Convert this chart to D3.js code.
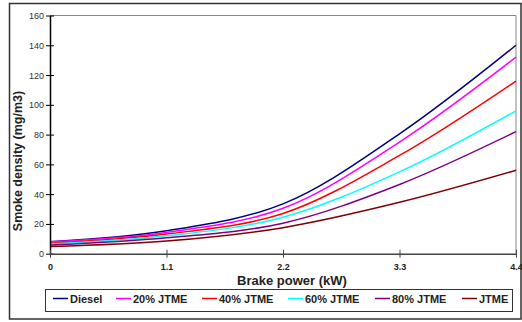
<!DOCTYPE html>
<html><head><meta charset="utf-8">
<script src="https://cdn.jsdelivr.net/npm/d3@7"></script>
<style>body{margin:0;background:#fff}svg{display:block}</style>
</head><body>
<svg id="c" width="522" height="322"></svg>
<script>
const xValues = [0, 1.1, 2.2, 3.3, 4.4];
const seriesNames = ["Diesel", "20% JTME", "40% JTME", "60% JTME", "80% JTME", "JTME"];
const diesel = [8, 15.4, 33.5, 80.5, 140];
const jtme20 = [8, 14.3, 30.5, 75, 132];
const jtme40 = [7, 13.2, 27, 66, 116];
const jtme60 = [6.5, 12, 24.5, 55, 96];
const jtme80 = [5.8, 10.7, 20.5, 46.5, 82];
const jtme100 = [4.8, 8.5, 17.5, 34.5, 56];
const seriesValues = [diesel, jtme20, jtme40, jtme60, jtme80, jtme100];
const colors = ["#000080", "#ff00ff", "#ff0000", "#00ffff", "#800080", "#800000"];
const xTicks = [0, 1.1, 2.2, 3.3, 4.4];
const yTicks = [0, 20, 40, 60, 80, 100, 120, 140, 160];

const svg = d3.select("#c");
const font = "Liberation Sans, Arial, sans-serif";
const x = d3.scaleLinear().domain([0, 4.4]).range([50, 516]);
const y = d3.scaleLinear().domain([0, 160]).range([253.7, 15.5]);

// outer border
svg.append("rect").attr("x", 9.5).attr("y", 3.5).attr("width", 511.5).attr("height", 315.5)
  .attr("fill", "none").attr("stroke", "#333").attr("stroke-width", 1.5);

// plot frame (top/right gray)
svg.append("path").attr("d", `M${x(0)},${y(160)}H${x(4.4)}V${y(0)}`)
  .attr("fill", "none").attr("stroke", "#888").attr("stroke-width", 1);

// lines
const line = d3.line().x((d, i) => x(xValues[i])).y(d => y(d)).curve(d3.curveCatmullRom.alpha(0.5));
seriesValues.forEach((vals, i) => {
  svg.append("path").attr("d", line(vals)).attr("fill", "none")
    .attr("stroke", colors[i]).attr("stroke-width", 1.5);
});

// y axis
const yAxis = d3.axisLeft(y).tickValues(yTicks).tickSize(0).tickPadding(0).tickFormat(d3.format("d"));
const gy = svg.append("g").attr("transform", `translate(${x(0)},0)`).call(yAxis);
gy.select(".domain").attr("stroke", "#000").attr("stroke-width", 1.5);
gy.selectAll(".tick line").remove();
gy.selectAll(".tick").append("line").attr("x1", -4).attr("x2", 4).attr("stroke", "#000").attr("stroke-width", 1);
gy.selectAll(".tick text").attr("x", -6).attr("dy", "0.34em").attr("font-family", font).attr("font-size", 9).attr("fill", "#333");

// x axis
const xAxis = d3.axisBottom(x).tickValues(xTicks).tickSize(0).tickPadding(0).tickFormat(d => d === 0 ? "0" : d3.format(".1f")(d));
const gx = svg.append("g").attr("transform", `translate(0,${y(0)})`).call(xAxis);
gx.select(".domain").attr("stroke", "#444").attr("stroke-width", 1.5);
gx.selectAll(".tick line").remove();
gx.selectAll(".tick").append("line").attr("y1", -4).attr("y2", 4).attr("stroke", "#444").attr("stroke-width", 1);
gx.selectAll(".tick text").attr("y", 16.3).attr("dy", 0).attr("font-family", font).attr("font-size", 9).attr("font-weight", "bold").attr("fill", "#222");
gy.select(".domain").raise();

// titles
svg.append("text").attr("x", 292).attr("y", 284.5).attr("text-anchor", "middle")
  .attr("font-family", font).attr("font-size", 13).attr("font-weight", "bold").attr("fill", "#222").text("Brake power (kW)");
svg.append("text").attr("transform", "translate(22,161) rotate(-90)").attr("text-anchor", "middle")
  .attr("font-family", font).attr("font-size", 12.5).attr("font-weight", "bold").attr("fill", "#222").text("Smoke density (mg/m3)");

// legend
svg.append("rect").attr("x", 45.5).attr("y", 289.5).attr("width", 467).attr("height", 22)
  .attr("fill", "#fff").attr("stroke", "#333").attr("stroke-width", 1);
const legendX = [53, 116, 202, 288, 375, 462];
seriesNames.forEach((name, i) => {
  const g = svg.append("g").attr("transform", `translate(${legendX[i]},0)`);
  g.append("line").attr("x1", 0).attr("x2", 15).attr("y1", 298.5).attr("y2", 298.5).attr("stroke", colors[i]).attr("stroke-width", 1.5);
  g.append("text").attr("x", 17).attr("y", 302.5).attr("font-family", font).attr("font-size", 11).attr("font-weight", "bold").attr("fill", "#222").text(name);
});
</script>
</body></html>
